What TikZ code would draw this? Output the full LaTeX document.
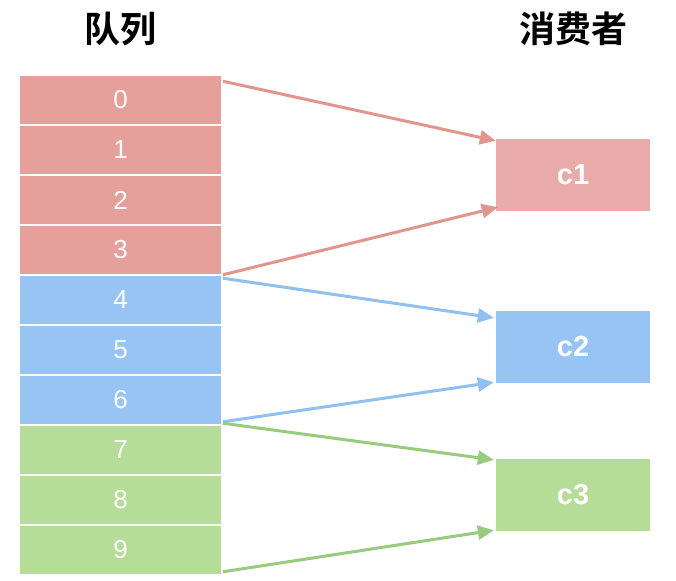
\documentclass[tikz,border=0pt]{standalone}
\usepackage{fontspec}
\setmainfont{Liberation Sans}
\newfontfamily\cjk{Noto Sans CJK SC Bold}
\usetikzlibrary{arrows.meta}
\definecolor{qred}{HTML}{E5A09C}
\definecolor{cred}{HTML}{E9ABAA}
\definecolor{qblue}{HTML}{97C4F3}
\definecolor{qgreen}{HTML}{B6DD97}
\definecolor{ared}{HTML}{E1958C}
\definecolor{ablue}{HTML}{90C0F0}
\definecolor{agreen}{HTML}{97CB7E}
\tikzset{
  cell/.style={draw=white, line width=1.5pt, minimum width=202pt, minimum height=50pt, inner sep=0pt,
    text=white, font=\fontsize{26}{26}\selectfont},
  cons/.style={minimum width=154pt, minimum height=72pt, inner sep=0pt, text=white,
    font=\bfseries\fontsize{29}{29}\selectfont},
  title/.style={font=\cjk\fontsize{36}{36}\selectfont},
  conn/.style={line width=3pt, -{Triangle[length=16pt,width=14pt]}},
}
\begin{document}
\begin{tikzpicture}[x=1pt,y=-1pt]
\useasboundingbox (0,0) rectangle (676,580);
\node[title] (t1) at (120,29) {队列};
\node[title] (t2) at (573,29) {消费者};
\foreach \i/\c in {0/qred,1/qred,2/qred,3/qred,4/qblue,5/qblue,6/qblue,7/qgreen,8/qgreen,9/qgreen}{
  \node[cell, fill=\c] (q\i) at (120.5,{100+50*\i}) {\raisebox{-1pt}{\i}};
}
\node[cons, fill=cred] (c1) at (573,175) {\raisebox{-3pt}{c1}};
\node[cons, fill=qblue] (c2) at (573,347) {\raisebox{-3pt}{c2}};
\node[cons, fill=qgreen] (c3) at (573,495) {\raisebox{-3pt}{c3}};
\draw[conn, ared] ([shift={(0.75,7)}]q0.north east) -- ([yshift=-2]c1.north west);
\draw[conn, ared] ([shift={(0.75,-1)}]q3.south east) -- ([shift={(2,-4)}]c1.south west);
\draw[conn, ablue] ([shift={(0.75,4)}]q4.north east) -- ([shift={(-2,7)}]c2.north west);
\draw[conn, ablue] ([shift={(0.75,-4)}]q6.south east) -- ([shift={(-2,-1)}]c2.south west);
\draw[conn, agreen] ([shift={(0.75,-1)}]q7.north east) -- ([shift={(-2,1)}]c3.north west);
\draw[conn, agreen] ([shift={(0.75,-4)}]q9.south east) -- ([shift={(-2,-1)}]c3.south west);
\end{tikzpicture}
\end{document}
